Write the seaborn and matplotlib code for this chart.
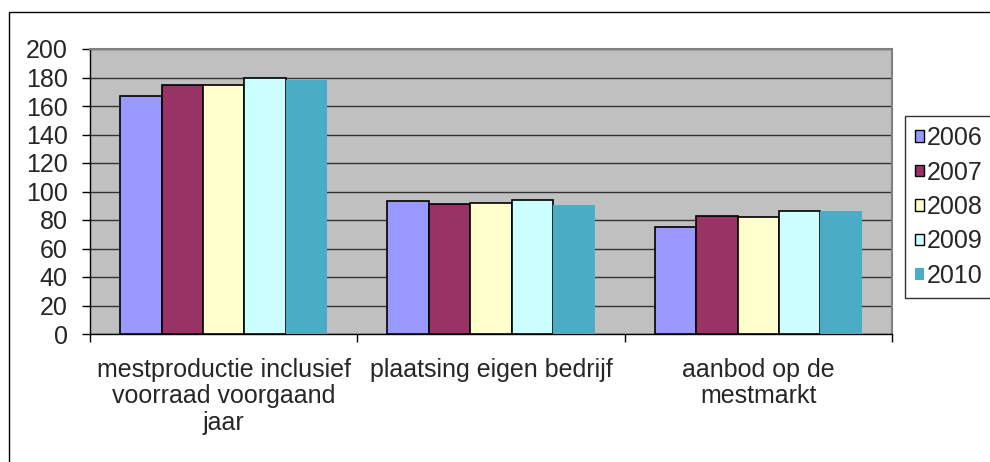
import numpy as np
import pandas as pd
import seaborn as sns
import matplotlib.pyplot as plt
from matplotlib.patches import Patch, Rectangle

categories = ['mestproductie inclusief\nvoorraad voorgaand\njaar',
              'plaatsing eigen bedrijf',
              'aanbod op de\nmestmarkt']
years = ['2006', '2007', '2008', '2009', '2010']
v2006 = [167, 93, 75]
v2007 = [175, 91, 83]
v2008 = [175, 92, 82]
v2009 = [180, 94, 86]
v2010 = [178, 90.5, 86.5]
colors = ['#9999FF', '#993366', '#FFFFCC', '#CCFFFF', '#4BACC6']
edges = ['black', 'black', 'black', 'black', 'none']


def set_style():
    sns.set_style("white")
    plt.rcParams.update({
        'font.family': ['Liberation Sans', 'DejaVu Sans'],
        'font.size': 18,
        'xtick.labelsize': 18,
        'ytick.labelsize': 18,
        'legend.fontsize': 18,
    })


def main():
    set_style()
    series = [v2006, v2007, v2008, v2009, v2010]
    rows = []
    for y, vals in zip(years, series):
        for c, v in zip(categories, vals):
            rows.append({'cat': c, 'year': y, 'value': v})
    df = pd.DataFrame(rows)

    fig = plt.figure(figsize=(9.9, 4.62), dpi=100)
    ax = fig.add_axes([90 / 990, 1 - 334 / 462, (892 - 90) / 990, (334 - 49) / 462])
    ax.set_facecolor('#C0C0C0')

    sns.barplot(data=df, x='cat', y='value', hue='year', order=categories,
                hue_order=years, palette=colors, saturation=1, width=0.775,
                ax=ax, legend=False, zorder=3)
    for cont, ec in zip(ax.containers, edges):
        for bar in cont:
            bar.set_edgecolor(ec)
            bar.set_linewidth(1.2)

    ax.set_ylim(0, 200)
    ax.set_xlim(-0.5, 2.5)
    ax.set_yticks(np.arange(0, 201, 20))
    ax.yaxis.grid(True, color='#333333', linewidth=1.0, zorder=1)
    ax.set_axisbelow(True)
    ax.set_xlabel('')
    ax.set_ylabel('')

    ax.set_xticks([0, 1, 2])
    ax.set_xticklabels(categories, ha='center', linespacing=1.15)
    ax.set_xticks([-0.5, 0.5, 1.5, 2.5], minor=True)
    ax.tick_params(axis='x', which='major', length=0, pad=17)
    ax.tick_params(axis='x', which='minor', length=6, width=1, color='black', direction='out', bottom=True)
    ax.tick_params(axis='y', which='major', length=6, width=1, color='black', direction='out', left=True, pad=10)

    for s in ['left', 'bottom']:
        ax.spines[s].set_color('black')
        ax.spines[s].set_linewidth(1.0)
    for s in ['top', 'right']:
        ax.spines[s].set_color('#808080')
        ax.spines[s].set_linewidth(1.5)

    handles = [Patch(facecolor=c, edgecolor=e, linewidth=1) for c, e in zip(colors, edges)]
    leg = fig.legend(handles, years, loc='center left',
                     bbox_to_anchor=(905 / 990, 1 - 207 / 462),
                     frameon=True, fancybox=False, edgecolor='black',
                     handlelength=0.35, handleheight=0.35, handletextpad=0.12,
                     labelspacing=0.42, borderpad=0.4, borderaxespad=0)
    leg.get_frame().set_linewidth(1.0)

    fig.patches.append(Rectangle((9 / 990, -0.1), 1.2, 1 - 12 / 462 + 0.1,
                                 transform=fig.transFigure, fill=False,
                                 edgecolor='black', linewidth=1.0))

    fig.savefig('out.png', dpi=100)


if __name__ == "__main__":
    main()
